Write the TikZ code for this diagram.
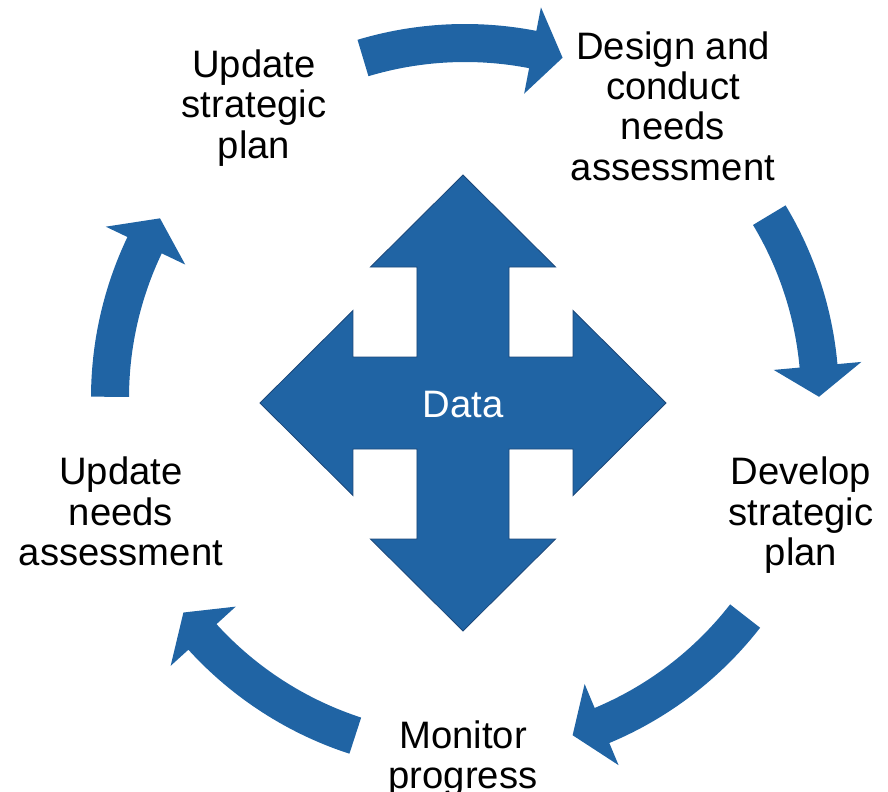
\documentclass[tikz,border=0pt]{standalone}
\usepackage{fontspec}
\setmainfont{Liberation Sans}
\usetikzlibrary{positioning}
\definecolor{cycblue}{RGB}{32,100,164}
\definecolor{cycedge}{RGB}{28,72,122}

% one curved arrow of the cycle: tail angle, tip angle
\newcommand{\cycarrow}[2]{%
  \fill[cycblue] (#1:374) arc[start angle=#1, end angle=#2+5, radius=374]
    -- (#2+5:398) -- (#2:354) -- (#2+5:310) -- (#2+5:336)
    arc[start angle=#2+5, end angle=#1, radius=336] -- cycle;}

\begin{document}
\begin{tikzpicture}[x=0.025cm, y=0.025cm,
    stage/.style={align=center, inner sep=0pt, anchor=base,
      font=\fontsize{27.2}{28.45}\selectfont}]
    \useasboundingbox (-465,-393) rectangle (423,398);

    % the big cross in the middle
    \begin{scope}[shift={(-2,-5)}]
    \filldraw[fill=cycblue, draw=cycedge, line width=0.6pt]
      (0,228) -- (92.5,136) -- (46,136) -- (46,46) -- (110,46) -- (110,92.5)
      -- (203,0) -- (110,-92.5) -- (110,-46) -- (46,-46) -- (46,-136)
      -- (92.5,-136) -- (0,-228) -- (-92.5,-136) -- (-46,-136) -- (-46,-46)
      -- (-110,-46) -- (-110,-92.5) -- (-203,0) -- (-110,92.5) -- (-110,46)
      -- (-46,46) -- (-46,136) -- (-92.5,136) -- cycle;
    \end{scope}
    \node[stage, text=white] (data) at (-2,-19) {Data};

    % base anchor sits on the last line
    \node[stage] (upstrat) at (-211,240) {Update\\strategic\\plan};
    \node[stage] (design) at (208,218) {Design and\\conduct\\needs\\assessment};
    \node[stage] (develop) at (336,-167) {Develop\\strategic\\plan};
    \node[stage] (monitor) at (-2,-390) {Monitor\\progress};
    \node[stage] (upneeds) at (-344,-167) {Update\\needs\\assessment};

    \cycarrow{106.7}{74}
    \cycarrow{31}{0.2}
    \cycarrow{-37.9}{-72.3}
    \cycarrow{-108}{-142.7}
    \cycarrow{179.8}{149.5}

\end{tikzpicture}
\end{document}
